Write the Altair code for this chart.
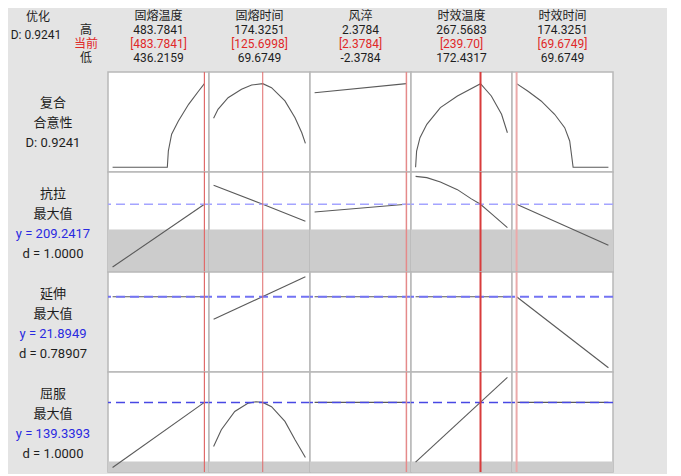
import altair as alt
import pandas as pd

# ---------------- data ----------------
FACTORS = ["固熔温度", "固熔时间", "风淬", "时效温度", "时效时间"]
HIGH = [483.7841, 174.3251, 2.3784, 267.5683, 174.3251]
CUR = [483.7841, 125.6998, 2.3784, 239.70, 69.6749]
LOW = [436.2159, 69.6749, -2.3784, 172.4317, 69.6749]
HIGH_TXT = ["483.7841", "174.3251", "2.3784", "267.5683", "174.3251"]
CUR_TXT = ["[483.7841]", "[125.6998]", "[2.3784]", "[239.70]", "[69.6749]"]
LOW_TXT = ["436.2159", "69.6749", "-2.3784", "172.4317", "69.6749"]

ROW_LABELS = [
    ["复合", "合意性", "D: 0.9241"],
    ["抗拉", "最大值", "y = 209.2417", "d = 1.0000"],
    ["延伸", "最大值", "y = 21.8949", "d = 0.78907"],
    ["屈服", "最大值", "y = 139.3393", "d = 1.0000"],
]
Y_PRED = [None, 209.2417, 21.8949, 139.3393]
Y_DOMAIN = [[-0.052, 1.053], [141.54, 241.54], [14.365, 24.365], [69.74, 169.74]]
LOWER_BAND = [None, [141.54, 184.0], None, [69.74, 80.3]]

# composite desirability curves
D_X = [
    [436.2159, 464.57, 465.1, 466.8, 470.3, 475.6, 480.8, 483.7841],
    [69.6749, 74.7, 86.2, 101.5, 113.0, 125.6998, 135.7, 151.0, 162.5, 170.2, 174.3251],
    [-2.3784, 2.3784],
    [172.4317, 173.49, 176.98, 184.06, 198.12, 215.77, 239.70, 250.9, 261.5, 267.5683],
    [69.6749, 82.3, 97.6, 113.0, 124.5, 130.2, 132.2, 134.1, 174.3251],
]
D_Y = [
    [0.0, 0.0, 0.18, 0.365, 0.512, 0.696, 0.843, 0.9241],
    [0.541, 0.641, 0.769, 0.862, 0.909, 0.9241, 0.880, 0.733, 0.548, 0.382, 0.265],
    [0.824, 0.9241],
    [0.0, 0.18, 0.327, 0.475, 0.659, 0.788, 0.9241, 0.788, 0.586, 0.382],
    [0.9241, 0.843, 0.733, 0.586, 0.438, 0.291, 0.144, 0.0, 0.0],
]
# tensile (抗拉)
T_X = [
    [436.2159, 483.7841],
    [69.6749, 125.6998, 174.3251],
    [-2.3784, 2.3784],
    [172.4317, 184.06, 198.12, 215.77, 229.8, 239.70, 250.9, 267.5683],
    [69.6749, 174.3251],
]
T_Y = [
    [146.5, 209.2417],
    [228.2, 209.2417, 192.2],
    [201.5, 209.2417],
    [237.2, 235.9, 231.5, 223.9, 214.9, 209.2417, 199.9, 185.9],
    [209.2417, 168.2],
]
# elongation (延伸)
E_X = [
    [436.2159, 483.7841],
    [69.6749, 174.3251],
    [-2.3784, 2.3784],
    [172.4317, 267.5683],
    [69.6749, 174.3251],
]
E_Y = [
    [21.8949, 21.8949],
    [19.63, 23.89],
    [21.8949, 21.8949],
    [21.8949, 21.8949],
    [21.8949, 14.79],
]
# yield (屈服)
Y_X = [
    [436.2159, 483.7841],
    [69.6749, 78.5, 93.8, 109.2, 118.0, 125.6998, 135.7, 151.0, 162.5, 174.3251],
    [-2.3784, 2.3784],
    [172.4317, 267.5683],
    [69.6749, 174.3251],
]
Y_Y = [
    [74.3, 139.3393],
    [95.3, 112.0, 130.3, 138.6, 140.0, 139.3393, 135.0, 120.3, 102.0, 84.3],
    [139.3393, 139.3393],
    [79.7, 164.3],
    [139.3393, 139.3393],
]
CURVES_X = [D_X, T_X, E_X, Y_X]
CURVES_Y = [D_Y, T_Y, E_Y, Y_Y]

# ---------------- styles ----------------
FONT = "Roboto, 'Noto Sans CJK SC', sans-serif"
FS = 12
FS_LAB = 13
BLACK = "#1e1e1e"
RED = "#e02828"
BLUE = "#2a2ae0"
PW, PH = 101, 100
LW, HH = 99, 63
SPW = 53
RED_COL = ["#e06a6a", "#e06a6a", "#e58a8a", "#d83c3c", "#ebaaaa"]
RED_W = [1.2, 1.0, 1.5, 2.0, 2.0]
DASH_COL = [None, "#a4a4ff", "#7373f3", "#4848e4"]
DASH_W = [None, 1.5, 2.0, 1.5]
PANEL_VIEW = alt.ViewBackground(fill="white", stroke="#b8b8b8", strokeWidth=1.5)


def txt(s, x, y, color=BLACK, fs=FS):
    return alt.Chart(pd.DataFrame({"t": [s]})).mark_text(
        font=FONT, fontSize=fs, color=color, align="center", baseline="middle"
    ).encode(text="t:N", x=alt.value(x), y=alt.value(y))


def cell(layers, w, h):
    return alt.layer(*layers).properties(width=w, height=h)


def spacer(h):
    return alt.Chart(pd.DataFrame({"a": [0]})).mark_point(opacity=0, size=1).encode(
        x=alt.value(SPW / 2), y=alt.value(h / 2)).properties(width=SPW, height=h)


def panel(row, i):
    span = HIGH[i] - LOW[i]
    xdom = [LOW[i] - 0.05 * span, HIGH[i] + 0.05 * span]
    xsc = alt.Scale(domain=xdom, nice=False, zero=False)
    ysc = alt.Scale(domain=Y_DOMAIN[row], nice=False, zero=False)
    layers = []
    if LOWER_BAND[row]:
        b = LOWER_BAND[row]
        layers.append(
            alt.Chart(pd.DataFrame({"x": [xdom[0]], "x2": [xdom[1]], "y": [b[0]], "y2": [b[1]]}))
            .mark_rect(color="#cccccc")
            .encode(x=alt.X("x:Q", scale=xsc, axis=None), x2="x2:Q",
                    y=alt.Y("y:Q", scale=ysc, axis=None), y2="y2:Q")
        )
    df = pd.DataFrame({"x": CURVES_X[row][i], "y": CURVES_Y[row][i]})
    layers.append(
        alt.Chart(df).mark_line(color="#5a5a5a", strokeWidth=1.1, clip=True)
        .encode(x=alt.X("x:Q", scale=xsc, axis=None), y=alt.Y("y:Q", scale=ysc, axis=None))
    )
    if Y_PRED[row] is not None:
        layers.append(
            alt.Chart(pd.DataFrame({"y": [Y_PRED[row]]}))
            .mark_rule(color=DASH_COL[row], strokeWidth=DASH_W[row], strokeDash=[9, 5])
            .encode(y=alt.Y("y:Q", scale=ysc, axis=None))
        )
    layers.append(
        alt.Chart(pd.DataFrame({"x": [CUR[i]]}))
        .mark_rule(color=RED_COL[i], strokeWidth=RED_W[i])
        .encode(x=alt.X("x:Q", scale=xsc, axis=None))
    )
    return alt.layer(*layers).properties(width=PW, height=PH, view=PANEL_VIEW)


cells = []
# header row
cells.append(cell([
    txt("优化", 29, 7.5),
    txt("D: 0.9241", 27, 26),
    txt("高", 77, 20.5),
    txt("当前", 77, 34.5, color=RED),
    txt("低", 77, 48.5),
], LW, HH))
for i in range(5):
    cells.append(cell([
        txt(FACTORS[i], PW / 2, 7),
        txt(HIGH_TXT[i], PW / 2, 20.5),
        txt(CUR_TXT[i], PW / 2, 34.5, color=RED),
        txt(LOW_TXT[i], PW / 2, 48.5),
    ], PW, HH))
cells.append(spacer(HH))

LABEL_Y = [[31, 51, 71], [22, 42, 62, 82], [22, 42, 62, 82], [22, 42, 62, 82]]
for r in range(4):
    labs = []
    for k, s in enumerate(ROW_LABELS[r]):
        color = BLUE if s.startswith("y =") else BLACK
        labs.append(txt(s, 44, LABEL_Y[r][k], color=color, fs=FS_LAB))
    cells.append(cell(labs, LW, PH))
    cells.extend(panel(r, i) for i in range(5))
    cells.append(spacer(PH))

chart = alt.concat(*cells, columns=7, spacing=0, bounds="flush").properties(
    background="#e4e4e4", padding=0
).configure_view(stroke="transparent")

chart.save("out.html", embed_options={"renderer": "svg", "actions": False})
